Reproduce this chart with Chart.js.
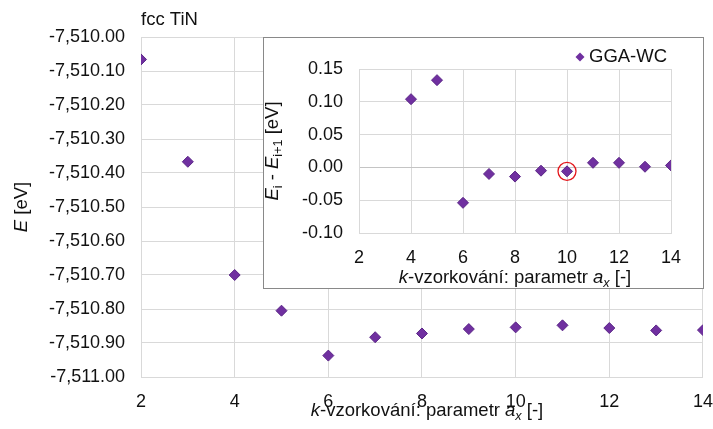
<!DOCTYPE html>
<html>
<head>
<meta charset="utf-8">
<script src="https://cdn.jsdelivr.net/npm/chart.js@4.4.1/dist/chart.umd.min.js"></script>
<style>
    body { margin: 0; background: #fff; }
    #wrap { position: relative; width: 713px; height: 429px; }
    #main { position: absolute; left: 0; top: 0; }
    #insetBox {
        position: absolute; left: 263px; top: 37px;
        width: 439px; height: 250px;
        border: 1px solid #898989; background: #fff;
    }
    #inset { display: block; }
</style>
</head>
<body>
<div id="wrap">
    <canvas id="main" width="713" height="429"></canvas>
    <div id="insetBox"><canvas id="inset" width="439" height="250"></canvas></div>
</div>
<script>
// Celková energie vs. k-vzorkování
const kPoints = [2, 3, 4, 5, 6, 7, 8, 9, 10, 11, 12, 13, 14];
const energies = [-7510.066, -7510.367, -7510.700, -7510.805, -7510.937, -7510.883, -7510.872,
                  -7510.859, -7510.854, -7510.848, -7510.856, -7510.863, -7510.862];

// Rozdíly E_i - E_(i+1)
const diffPoints = [4, 5, 6, 7, 8, 9, 10, 11, 12, 13, 14];
const energyDiffs = [0.104, 0.133, -0.054, -0.010, -0.014, -0.005, -0.006, 0.007, 0.007, 0.001, 0.003];

// Zvýrazněný bod (kroužek)
const highlightK = 10;

const seriesName = 'GGA-WC';
const chartTitle = 'fcc TiN';

const FONT = '"Liberation Sans", Arial, sans-serif';
const TEXT = '#111';
const GRID = '#d9d9d9';
const PURPLE = '#7030a0';
const TITLE_SIZE = 18.5;

const toXY = (xs, ys) => xs.map((x, i) => ({ x: x, y: ys[i] }));

// Text s kurzívou a dolními indexy
function drawRich(ctx, parts, x, y, size, angle) {
    ctx.save();
    ctx.translate(x, y);
    ctx.rotate(angle || 0);
    ctx.textBaseline = 'middle';
    ctx.textAlign = 'left';
    ctx.fillStyle = TEXT;
    const fontOf = p => (p.italic ? 'italic ' : '') + (p.sub ? size * 0.68 : size) + 'px ' + FONT;
    let total = 0;
    parts.forEach(p => { ctx.font = fontOf(p); total += ctx.measureText(p.text).width; });
    let cx = -total / 2;
    parts.forEach(p => {
        ctx.font = fontOf(p);
        ctx.fillText(p.text, cx, p.sub ? size * 0.3 : 0);
        cx += ctx.measureText(p.text).width;
    });
    ctx.restore();
}

const xTitleParts = [
    { text: 'k', italic: true },
    { text: '-vzorkování: parametr ' },
    { text: 'a', italic: true },
    { text: 'x', italic: true, sub: true },
    { text: ' [-]' }
];

const mainTitles = {
    id: 'mainTitles',
    afterDraw(chart) {
        const { ctx, chartArea } = chart;
        const cx = (chartArea.left + chartArea.right) / 2;
        const cy = (chartArea.top + chartArea.bottom) / 2;
        drawRich(ctx, xTitleParts, cx + 5, 411, TITLE_SIZE);
        drawRich(ctx, [{ text: 'E', italic: true }, { text: ' [eV]' }], 22, cy, TITLE_SIZE, -Math.PI / 2);
    }
};

const insetTitles = {
    id: 'insetTitles',
    afterDraw(chart) {
        const { ctx, chartArea } = chart;
        const cx = (chartArea.left + chartArea.right) / 2;
        const cy = (chartArea.top + chartArea.bottom) / 2;
        drawRich(ctx, xTitleParts, cx, 239.5, TITLE_SIZE);
        drawRich(ctx, [
            { text: 'E', italic: true }, { text: 'i', sub: true },
            { text: ' - ' },
            { text: 'E', italic: true }, { text: 'i+1', sub: true },
            { text: ' [eV]' }
        ], 9, cy, TITLE_SIZE, -Math.PI / 2);

        // legenda
        const lx = 316, ly = 19;
        ctx.save();
        ctx.fillStyle = PURPLE;
        ctx.beginPath();
        ctx.moveTo(lx, ly - 4.5);
        ctx.lineTo(lx + 4.5, ly);
        ctx.lineTo(lx, ly + 4.5);
        ctx.lineTo(lx - 4.5, ly);
        ctx.closePath();
        ctx.fill();
        ctx.fillStyle = TEXT;
        ctx.font = TITLE_SIZE + 'px ' + FONT;
        ctx.textBaseline = 'middle';
        ctx.fillText(seriesName, lx + 9, ly);
        ctx.restore();
    }
};

const tickFont = { family: FONT, size: 18 };
const HIDDEN = 'rgba(0,0,0,0)';

new Chart(document.getElementById('main'), {
    type: 'scatter',
    data: {
        datasets: [{
            label: seriesName,
            data: toXY(kPoints, energies),
            pointStyle: 'rectRot',
            pointRadius: 5.5,
            backgroundColor: PURPLE,
            borderColor: '#5b2687',
            borderWidth: 1
        }]
    },
    options: {
        responsive: false,
        animation: false,
        layout: { padding: { left: 0, right: 9, top: 0, bottom: 0 } },
        plugins: {
            legend: { display: false },
            tooltip: { enabled: false },
            title: {
                display: true,
                text: chartTitle,
                align: 'start',
                fullSize: false,
                color: TEXT,
                font: { family: FONT, size: TITLE_SIZE, weight: 'normal' },
                padding: { top: 9, bottom: 5.8 }
            }
        },
        scales: {
            x: {
                type: 'linear',
                min: 2,
                max: 14,
                afterFit: s => { s.height = 52; },
                grid: { color: GRID, tickLength: 14, tickColor: HIDDEN },
                border: { color: GRID },
                ticks: { stepSize: 2, color: TEXT, font: tickFont, padding: 0 }
            },
            y: {
                min: -7511,
                max: -7510,
                afterFit: s => { s.width = 141; },
                grid: { color: GRID, tickLength: 16, tickColor: HIDDEN },
                border: { color: GRID },
                ticks: {
                    stepSize: 0.1,
                    color: TEXT,
                    font: tickFont,
                    padding: 0,
                    callback: v => v.toLocaleString('en-US', { minimumFractionDigits: 2, maximumFractionDigits: 2 })
                }
            }
        }
    },
    plugins: [mainTitles]
});

new Chart(document.getElementById('inset'), {
    type: 'scatter',
    data: {
        datasets: [{
            label: seriesName,
            data: toXY(diffPoints, energyDiffs),
            pointStyle: 'rectRot',
            pointRadius: 5.5,
            backgroundColor: PURPLE,
            borderColor: '#5b2687',
            borderWidth: 1
        }, {
            label: 'highlight',
            data: toXY([highlightK], [energyDiffs[diffPoints.indexOf(highlightK)]]),
            pointStyle: 'circle',
            pointRadius: 9,
            backgroundColor: HIDDEN,
            borderColor: '#e3161b',
            borderWidth: 1.3
        }]
    },
    options: {
        responsive: false,
        animation: false,
        layout: { padding: { left: 0, right: 32, top: 31, bottom: 0 } },
        plugins: {
            legend: { display: false },
            tooltip: { enabled: false }
        },
        scales: {
            x: {
                type: 'linear',
                min: 2,
                max: 14,
                afterFit: s => { s.height = 55; },
                grid: { color: GRID, tickLength: 14, tickColor: HIDDEN },
                border: { color: GRID },
                ticks: { stepSize: 2, color: TEXT, font: tickFont, padding: 0 }
            },
            y: {
                min: -0.1,
                max: 0.15,
                afterFit: s => { s.width = 95; },
                grid: {
                    color: c => (c.tick && Math.abs(c.tick.value) < 1e-9 ? '#c4c4c4' : GRID),
                    tickLength: 16,
                    tickColor: HIDDEN
                },
                border: { color: GRID },
                ticks: {
                    stepSize: 0.05,
                    color: TEXT,
                    font: tickFont,
                    padding: 0,
                    callback: v => v.toFixed(2)
                }
            }
        }
    },
    plugins: [insetTitles]
});
</script>
</body>
</html>
